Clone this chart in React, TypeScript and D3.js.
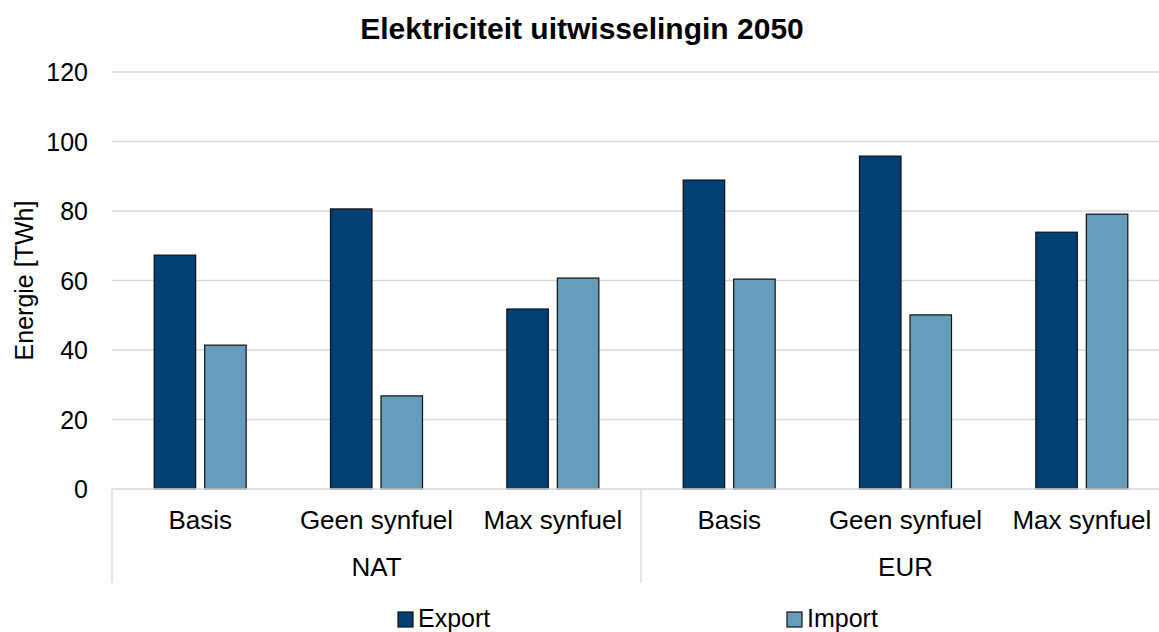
import React from "react";
import * as d3 from "d3";

const groups = ["NAT", "EUR"];
const scenarios = ["Basis", "Geen synfuel", "Max synfuel"];
const exportValues = [67.3, 80.6, 51.8, 88.9, 95.8, 73.9];
const importValues = [41.4, 26.8, 60.7, 60.4, 50.1, 79.1];
const yTicks = [0, 20, 40, 60, 80, 100, 120];
const seriesNames = ["Export", "Import"];
const colors = ["#023f73", "#659dbb"];

const W = 1159, H = 632;
const left = 112, right = 1170, top = 72, bottom = 489;
const font = "Arial, 'Liberation Sans', sans-serif";
const fs = 25;
const catFs = 26;

export default function App() {
  const cats = groups.flatMap((g) => scenarios.map((s) => `${g}|${s}`));
  const x = d3.scaleBand<string>().domain(cats).range([left, right]).paddingInner(0).paddingOuter(0);
  const y = d3.scaleLinear().domain([0, 120]).range([bottom, top]);
  const bw = 41.5, gap = 9;
  const series = [exportValues, importValues];
  const groupW = x.bandwidth() * scenarios.length;

  return (
    <svg width={W} height={H} style={{ display: "block", position: "absolute", left: 0, top: 0 }} fontFamily={font}>
      <rect width={W} height={H} fill="#fff" />
      <text x={582} y={39} textAnchor="middle" fontSize={30} fontWeight="bold">Elektriciteit uitwisselingin 2050</text>
      {yTicks.map((t) => (
        <g key={t}>
          {t > 0 && <line x1={left} x2={right} y1={y(t)} y2={y(t)} stroke="#d9d9d9" strokeWidth={1.3} />}
          <text x={88} y={y(t) + 9} textAnchor="end" fontSize={fs}>{t}</text>
        </g>
      ))}
      <text transform={`translate(33,${(top + bottom) / 2}) rotate(-90)`} textAnchor="middle" fontSize={fs}>Energie [TWh]</text>
      {cats.map((c, i) => {
        const cx = x(c)! + x.bandwidth() / 2;
        return series.map((vals, si) => {
          const bx = si === 0 ? cx - gap / 2 - bw : cx + gap / 2;
          return (
            <rect key={c + si} x={bx} y={y(vals[i])} width={bw} height={y(0) - y(vals[i])}
              fill={colors[si]} stroke="#111" strokeWidth={1.2} />
          );
        });
      })}
      <line x1={left} x2={right} y1={bottom} y2={bottom} stroke="#d9d9d9" strokeWidth={1.3} />
      {[0, 1, 2].map((k) => (
        <line key={k} x1={left + k * groupW} x2={left + k * groupW} y1={bottom} y2={583} stroke="#d9d9d9" strokeWidth={1.3} />
      ))}
      {cats.map((c, i) => (
        <text key={c} x={x(c)! + x.bandwidth() / 2} y={529} textAnchor="middle" fontSize={catFs}>{scenarios[i % 3]}</text>
      ))}
      {groups.map((g, gi) => (
        <text key={g} x={left + gi * groupW + groupW / 2} y={576} textAnchor="middle" fontSize={catFs}>{g}</text>
      ))}
      {seriesNames.map((n, i) => {
        const lx = i === 0 ? 398 : 787;
        return (
          <g key={n}>
            <rect x={lx} y={612} width={15} height={15} fill={colors[i]} stroke="#111" strokeWidth={1.2} />
            <text x={lx + 20} y={627} fontSize={fs}>{n}</text>
          </g>
        );
      })}
    </svg>
  );
}
